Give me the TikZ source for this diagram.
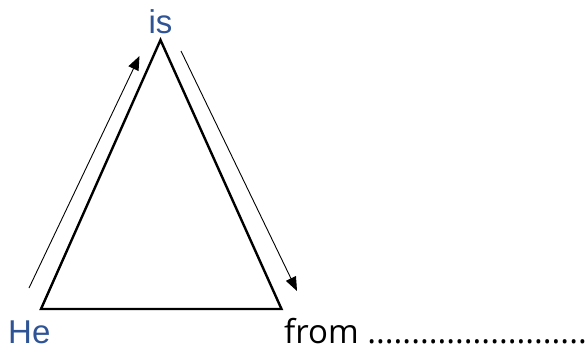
\documentclass[tikz,border=0pt]{standalone}
\usepackage{fontspec}
\setmainfont{Liberation Sans}
\newfontfamily\fromfont{Open Sans}
\usetikzlibrary{arrows.meta}
\definecolor{wordblue}{RGB}{47,84,150}

\begin{document}
\begin{tikzpicture}[
    x=1pt, y=-1pt,
    word/.style={inner sep=0pt, anchor=base west, font=\fontsize{33}{36}\selectfont},
    side/.style={line width=2.4pt, line join=miter},
    flow/.style={-{Triangle[length=14pt, width=11pt]}, line width=0.9pt}
  ]
  \useasboundingbox (0,0) rectangle (588,354);

  % corners of the triangle
  \coordinate (top) at (160.5,40);
  \coordinate (bl)  at (41,309);
  \coordinate (br)  at (281.5,309);
  \draw[side] (bl) -- (top) -- (br) -- cycle;

  % words at the corners
  \node[word, anchor=base, text=wordblue] (is) at (160.5,33) {is};
  \node[word, text=wordblue] (he) at (8,343) {He};
  \node[word, font=\fontsize{33}{36}\selectfont\fromfont] (from) at (284,343) {from .........................};

  % arrows along the sides
  \coordinate (up0) at (29,288);
  \coordinate (up1) at (139.5,56);
  \coordinate (dn0) at (181,51);
  \coordinate (dn1) at (297,291);
  \draw[flow] (up0) -- (up1);
  \draw[flow] (dn0) -- (dn1);
\end{tikzpicture}
\end{document}
